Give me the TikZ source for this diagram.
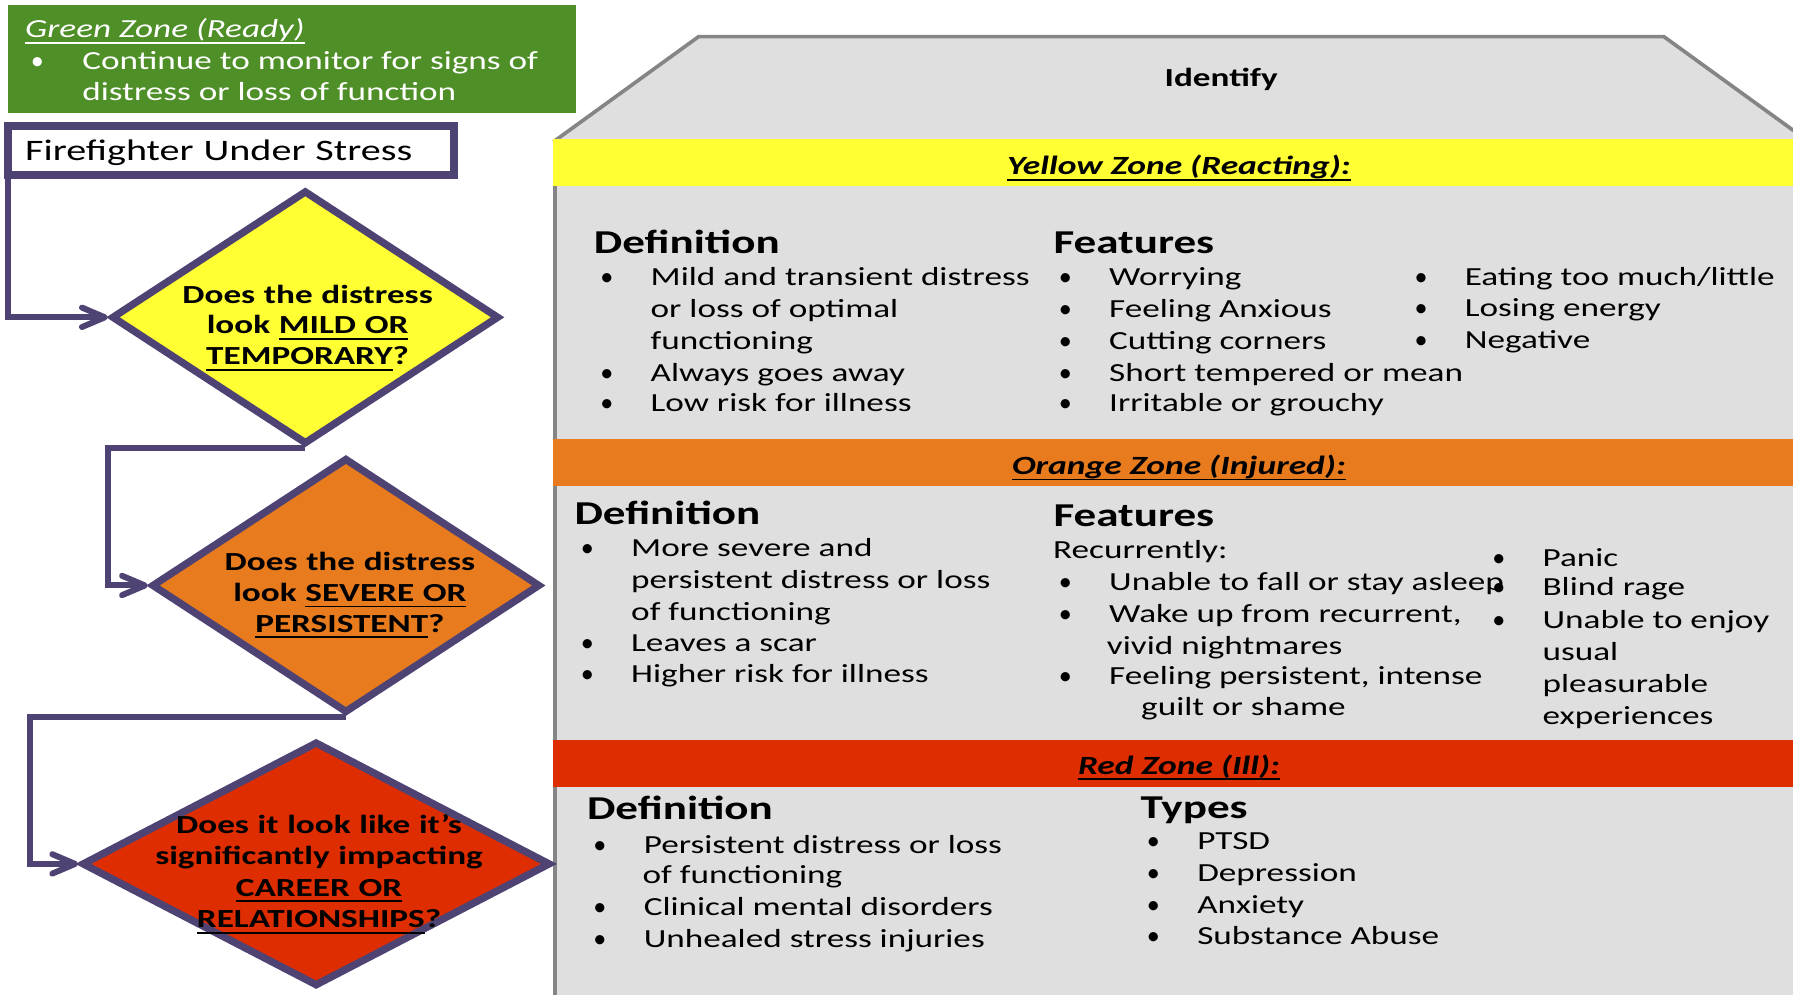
\documentclass[tikz,border=0pt]{standalone}
\usepackage{fontspec}
\setmainfont{Carlito}[FakeStretch=1.35]
\newfontfamily\dotfont{Carlito}
\usetikzlibrary{arrows.meta,shapes.geometric}

\definecolor{flowpurple}{HTML}{4F4374}
\definecolor{zoneyellow}{HTML}{FFFF33}
\definecolor{zoneorange}{HTML}{E87B1E}
\definecolor{zonered}{HTML}{DE2D00}
\definecolor{zonegreen}{HTML}{4E8F27}
\definecolor{panelgray}{HTML}{DFDFDF}
\definecolor{edgegray}{HTML}{858585}

\newcommand{\bodyfont}{\fontsize{11.4}{13.75}\selectfont}
\newcommand{\headfont}{\fontsize{14.6}{17}\selectfont\bfseries}
\newcommand{\askfont}{\fontsize{11.4}{13.5}\selectfont\bfseries}
\newcommand{\bandfont}{\fontsize{11.5}{13.75}\selectfont\bfseries\itshape}
\newcommand{\listdot}{{\dotfont\textbullet}}

% underline set just below the baseline
\newsavebox{\ulinebox}
\newcommand{\zoneul}[1]{\sbox{\ulinebox}{#1}\leavevmode\rlap{\rule[-2.6pt]{\wd\ulinebox}{0.8pt}}\usebox{\ulinebox}}

% bullet point: dot at (x,y), its text 44 units further right
\newcommand{\bitem}[4]{%
  \node[bodytxt] (#1-dot) at (#2,#3) {\listdot};
  \node[bodytxt] (#1) at (#2+44,#3) {#4};}

\begin{document}
\begin{tikzpicture}[x=0.5pt,y=-0.5pt,
  bodytxt/.style={anchor=base west,inner sep=0pt,outer sep=0pt,font=\bodyfont},
  headtxt/.style={anchor=base west,inner sep=0pt,font=\headfont},
  bandtxt/.style={inner sep=0pt,font=\bandfont},
  asktxt/.style={anchor=base,inner sep=0pt,text width=200pt,align=center,font=\askfont},
  ask/.style={diamond,draw=flowpurple,line width=3.2pt,inner sep=0pt},
  conn/.style={draw=flowpurple,line width=2.6pt,-{Straight Barb[length=10pt,width=8.5pt,round]}}]
\useasboundingbox (0,0) rectangle (1568,870);
\clip (0,0) rectangle (1568,870);

% ---------- identification panel ----------
\fill[panelgray] (484,122) rectangle (1572,872);
\filldraw[fill=panelgray,draw=edgegray,line width=1.6pt] (484,124) -- (611,32) -- (1455,32) -- (1582,124);
\draw[edgegray,line width=2pt] (485.5,122) -- (485.5,872);
\node[font=\fontsize{11.4}{13}\selectfont\bfseries] (identify) at (1068,69) {Identify};

\fill[zoneyellow] (484,122) rectangle (1572,163);
\node[bandtxt] (yz) at (1031,147) {\zoneul{Yellow Zone (Reacting):}};
\fill[zoneorange] (484,384) rectangle (1572,425);
\node[bandtxt] (oz) at (1031,409) {\zoneul{Orange Zone (Injured):}};
\fill[zonered] (484,647) rectangle (1572,688);
\node[bandtxt] (rz) at (1031,671) {\zoneul{Red Zone (Ill):}};

\begin{scope}[yshift=-1pt]
% yellow zone
\node[headtxt] (ydef) at (519,220) {Definition};
\bitem{yd1}{525}{248}{Mild and transient distress}
\node[bodytxt] (yd1b) at (569,276) {or loss of optimal};
\node[bodytxt] (yd1c) at (569,304) {functioning};
\bitem{yd2}{525}{332}{Always goes away}
\bitem{yd3}{525}{358}{Low risk for illness}
\node[headtxt] (yfeat) at (921,220) {Features};
\bitem{yf1}{926}{248}{Worrying}
\bitem{yf2}{926}{276}{Feeling Anxious}
\bitem{yf3}{926}{304}{Cutting corners}
\bitem{yf4}{926}{332}{Short tempered or mean}
\bitem{yf5}{926}{358}{Irritable or grouchy}
\bitem{yf6}{1237}{248}{Eating too much/little}
\bitem{yf7}{1237}{275}{Losing energy}
\bitem{yf8}{1237}{303}{Negative}

% orange zone
\node[headtxt] (odef) at (502,457) {Definition};
\bitem{od1}{508}{485}{More severe and}
\node[bodytxt] (od1b) at (552,513) {persistent distress or loss};
\node[bodytxt] (od1c) at (552,541) {of functioning};
\bitem{od2}{508}{568}{Leaves a scar}
\bitem{od3}{508}{595}{Higher risk for illness}
\node[headtxt] (ofeat) at (921,458) {Features};
\node[bodytxt] (orec) at (921,486) {Recurrently:};
\bitem{of1}{926}{514}{Unable to fall or stay asleep}
\bitem{of2}{926}{542}{Wake up from recurrent,}
\node[bodytxt] (of2b) at (968,570) {vivid nightmares};
\bitem{of3}{926}{597}{Feeling persistent, intense}
\node[bodytxt] (of3b) at (998,624) {guilt or shame};
\bitem{of4}{1305}{493}{Panic}
\bitem{of5}{1305}{519}{Blind rage}
\bitem{of6}{1305}{548}{Unable to enjoy}
\node[bodytxt] (of6b) at (1349,576) {usual};
\node[bodytxt] (of6c) at (1349,604) {pleasurable};
\node[bodytxt] (of6d) at (1349,632) {experiences};

% red zone
\node[headtxt] (rdef) at (513,715) {Definition};
\bitem{rd1}{519}{744}{Persistent distress or loss}
\node[bodytxt] (rd1b) at (562,771) {of functioning};
\bitem{rd2}{519}{799}{Clinical mental disorders}
\bitem{rd3}{519}{827}{Unhealed stress injuries}
\node[headtxt] (rtypes) at (997,714) {Types};
\bitem{rt1}{1003}{741}{PTSD}
\bitem{rt2}{1003}{769}{Depression}
\bitem{rt3}{1003}{797}{Anxiety}
\bitem{rt4}{1003}{824}{Substance Abuse}
\end{scope}

% ---------- green zone note ----------
\node[fill=zonegreen,minimum width=248pt,minimum height=47pt,inner sep=0pt,anchor=north west] (green) at (7,4) {};
\begin{scope}[yshift=-1pt]
\node[bodytxt,text=white,font={\bodyfont\itshape}] (gtitle) at (22,31) {\zoneul{Green Zone (Ready)}};
\node[bodytxt,text=white] (gdot) at (27,59) {\listdot};
\node[bodytxt,text=white] (gline1) at (72,59) {Continue to monitor for signs of};
\node[bodytxt,text=white] (gline2) at (72,86) {distress or loss of function};
\end{scope}

% ---------- decision flow ----------
\node[draw=flowpurple,line width=3.3pt,fill=white,outer sep=0pt,inner xsep=7.5pt,inner ysep=0pt,
      minimum height=21.5pt,text width=180pt,align=left,font=\fontsize{13}{15}\selectfont]
      (ff) at (202,131.5) {\smash{\raisebox{-4.6pt}{Firefighter Under Stress}}};

\node[ask,fill=zoneyellow,minimum width=169.5pt,minimum height=111pt] (d1) at (267,277.5) {};
\node[ask,fill=zoneorange,minimum width=170pt,minimum height=111.5pt] (d2) at (302.5,512) {};
\node[ask,fill=zonered,minimum width=205pt,minimum height=107pt] (d3) at (276.5,755.5) {};

\node[asktxt] (q1) at (269,265) {Does the distress\\look \zoneul{MILD OR}\\\zoneul{TEMPORARY}?};
\node[asktxt] (q2) at (306,499) {Does the distress\\look \zoneul{SEVERE OR}\\\zoneul{PERSISTENT}?};
\node[asktxt,font={\fontsize{11.4}{13.7}\selectfont\bfseries}] (q3) at (279,729) {Does it look like it’s\\significantly impacting\\\zoneul{CAREER OR}\\\zoneul{RELATIONSHIPS}?};

\draw[conn] (ff.south west) |- (d1.west);
\draw[conn] (d1.south) -- (d1.south -| d1.west) |- (d2.west);
\draw[conn] (d2.south) -- ++(-276,0) |- (d3.west);
\end{tikzpicture}
\end{document}
